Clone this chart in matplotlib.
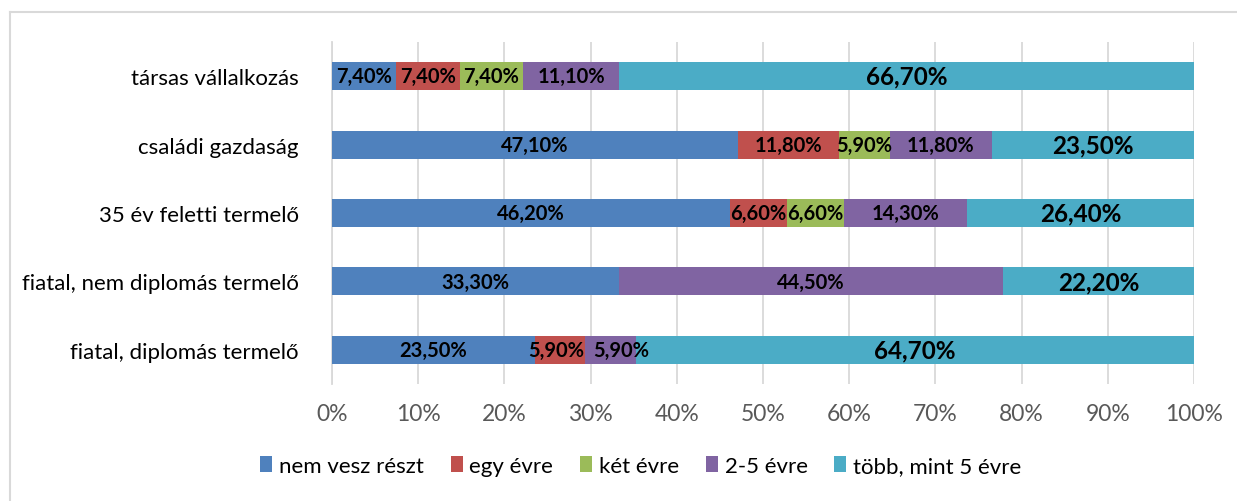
import numpy as np
import matplotlib
matplotlib.use("Agg")
import matplotlib.pyplot as plt
from matplotlib.lines import Line2D

plt.rcParams['font.family'] = ['Lato', 'DejaVu Sans']

# Data (bottom to top)
categories = ["fiatal, diplomás termelő",
              "fiatal, nem diplomás termelő",
              "35 év feletti termelő",
              "családi gazdaság",
              "társas vállalkozás"]
series_names = ["nem vesz részt", "egy évre", "két évre", "2-5 évre", "több, mint 5 évre"]
nem_vesz = [23.5, 33.3, 46.2, 47.1, 7.4]
egy_evre = [5.9, 0.0, 6.6, 11.8, 7.4]
ket_evre = [0.0, 0.0, 6.6, 5.9, 7.4]
ketot_evre = [5.9, 44.5, 14.3, 11.8, 11.1]
tobb_evre = [64.7, 22.2, 26.4, 23.5, 66.7]
colors = ["#4F81BD", "#C0504D", "#9BBB59", "#8064A2", "#4BACC6"]

series = [nem_vesz, egy_evre, ket_evre, ketot_evre, tobb_evre]
data = np.array(series, dtype=float)
totals = data.sum(axis=0)
shares = data / totals

# small label nudges (series, row) -> x offset, where labels would collide
nudge = {(3, 0): 0.012, (1, 0): -0.004}

fig = plt.figure(figsize=(12.37, 5.02), dpi=100)
ax = fig.add_axes([0.2684, 0.233, 0.6969, 0.681])

y = np.arange(len(categories))
left = np.zeros(len(categories))
for i, (name, vals) in enumerate(zip(series_names, shares)):
    ax.barh(y, vals, left=left, height=0.41, color=colors[i], label=name, zorder=3)
    for j, v in enumerate(vals):
        if data[i, j] > 0:
            txt = f"{data[i, j]:.2f}".replace(".", ",") + "%"
            size = 17.5 if i == 4 else 14.5
            ax.text(left[j] + v / 2 + nudge.get((i, j), 0), y[j], txt,
                    ha="center", va="center",
                    fontsize=size, fontweight="bold", color="black", zorder=4)
    left += vals

ax.set_xlim(0, 1)
ax.set_ylim(-0.5, len(categories) - 0.5)
ax.set_xticks(np.linspace(0, 1, 11))
ax.set_xticklabels([f"{int(t)}%" for t in np.linspace(0, 100, 11)],
                   fontsize=16.5, color="#595959")
ax.set_yticks(y)
ax.set_yticklabels(categories, fontsize=16, color="black")
ax.tick_params(axis="y", length=0, pad=24)
ax.tick_params(axis="x", length=0, pad=14)
ax.grid(axis="x", color="#D9D9D9", linewidth=1.3, zorder=0)
for s in ["top", "right", "bottom"]:
    ax.spines[s].set_visible(False)
ax.spines["left"].set_color("#D9D9D9")
ax.spines["left"].set_linewidth(1.3)

ax.legend(loc="center", bbox_to_anchor=(0.518, 0.07), bbox_transform=fig.transFigure,
          ncol=5, frameon=False, fontsize=16, handlelength=0.55, handleheight=0.7,
          handletextpad=0.3, columnspacing=1.2)

# chart area border
fig.add_artist(Line2D([10 / 1237, 1], [1 - 13 / 502, 1 - 13 / 502],
                      transform=fig.transFigure, color="#D9D9D9", linewidth=1.5))
fig.add_artist(Line2D([10 / 1237, 10 / 1237], [0, 1 - 13 / 502],
                      transform=fig.transFigure, color="#D9D9D9", linewidth=1.5))

fig.savefig("out.png", dpi=100)
